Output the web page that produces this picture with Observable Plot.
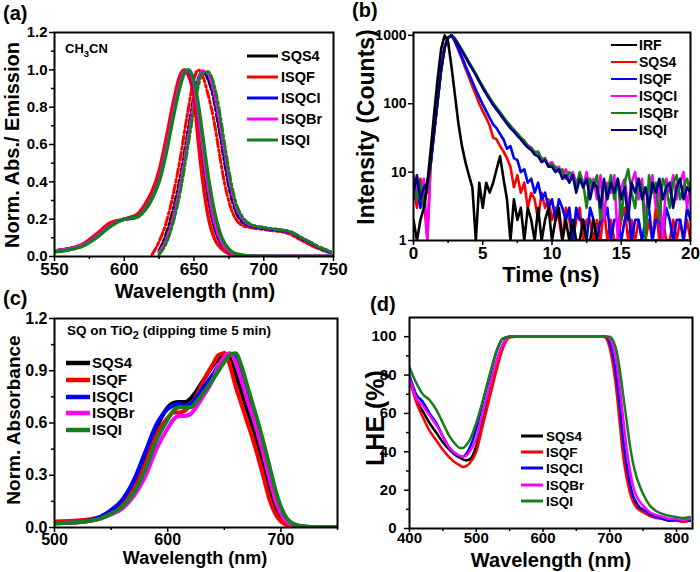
<!DOCTYPE html>
<html><head><meta charset="utf-8">
<script src="https://cdn.jsdelivr.net/npm/d3@7"></script>
<script src="https://cdn.jsdelivr.net/npm/@observablehq/plot@0.6"></script>
<style>
body{margin:0;background:#fff;}
#root{position:relative;width:700px;height:572px;overflow:hidden;background:#fff;font-family:"Liberation Sans",Arial,sans-serif;font-weight:bold;}
.panel{position:absolute;}
.panel svg{overflow:visible;}
#overlay{position:absolute;left:0;top:0;pointer-events:none;}
</style></head><body><div id="root"></div>
<script>
// ---------- shared ----------
const seriesNames = ["SQS4","ISQF","ISQCl","ISQBr","ISQI"];
const seriesLabels = ["SQS4","ISQF","ISQCI","ISQBr","ISQI"];
const seriesColors = ["#000000","#ff0000","#0000ff","#ff00ff","#14801a"];

// ---------- panel (a) ----------
const aWl = [550,560,570,580,590,600,605,610,615,620,625,630,635,640,643,646,650,653,656,660,665,670,675,680,690,700,750];
const aAbsSQS4  = [0.03,0.04,0.06,0.11,0.17,0.20,0.21,0.22,0.26,0.32,0.42,0.58,0.77,0.94,0.99,0.98,0.89,0.74,0.55,0.33,0.15,0.06,0.024,0.009,0.002,0,0];
const aAbsISQF  = [0.03,0.04,0.065,0.12,0.18,0.20,0.21,0.23,0.28,0.35,0.46,0.63,0.82,0.97,1.0,0.97,0.85,0.62,0.42,0.22,0.09,0.04,0.015,0.006,0.001,0,0];
const aAbsISQCl = [0.03,0.04,0.06,0.105,0.165,0.20,0.205,0.215,0.255,0.315,0.41,0.57,0.76,0.93,0.99,0.99,0.91,0.77,0.59,0.37,0.17,0.07,0.028,0.01,0.002,0,0];
const aAbsISQBr = [0.03,0.04,0.06,0.105,0.165,0.20,0.205,0.215,0.255,0.315,0.41,0.57,0.76,0.93,0.99,0.995,0.92,0.78,0.60,0.38,0.18,0.075,0.03,0.01,0.002,0,0];
const aAbsISQI  = [0.025,0.035,0.055,0.10,0.16,0.20,0.205,0.215,0.25,0.31,0.40,0.55,0.74,0.91,0.98,1.0,0.94,0.82,0.66,0.44,0.23,0.10,0.04,0.015,0.003,0.001,0];

const eWl = [620,625,630,635,640,645,650,653,656,660,664,668,672,676,680,685,690,700,710,715,720,725,730,735,740,745,748];
const aEmSQS4  = [null,0.03,0.12,0.25,0.42,0.64,0.86,0.95,0.99,0.95,0.85,0.68,0.50,0.34,0.24,0.18,0.16,0.15,0.14,0.135,0.125,0.105,0.08,0.06,0.045,0.03,0.022];
const aEmISQF  = [0.01,0.08,0.18,0.33,0.52,0.75,0.95,1.0,0.97,0.87,0.74,0.56,0.39,0.27,0.20,0.165,0.155,0.145,0.135,0.13,0.115,0.095,0.075,0.055,0.04,0.025,0.02];
const aEmISQCl = [null,0.02,0.09,0.21,0.38,0.60,0.83,0.94,0.99,0.97,0.88,0.72,0.54,0.37,0.26,0.19,0.165,0.15,0.14,0.135,0.125,0.105,0.085,0.065,0.045,0.03,0.02];
const aEmISQBr = [null,0.02,0.09,0.21,0.38,0.60,0.83,0.94,0.995,0.98,0.89,0.74,0.56,0.39,0.27,0.20,0.17,0.155,0.145,0.14,0.13,0.11,0.09,0.07,0.05,0.035,0.025];
const aEmISQI  = [null,0.01,0.07,0.18,0.34,0.56,0.79,0.91,0.98,0.99,0.93,0.79,0.60,0.42,0.29,0.21,0.175,0.155,0.145,0.14,0.13,0.11,0.09,0.07,0.05,0.035,0.025];

const aXTicks = [550,600,650,700,750];
const aXMinor = [575,625,675,725];
const aYTicks = [0,0.2,0.4,0.6,0.8,1.0,1.2];
const aYMinor = [0.1,0.3,0.5,0.7,0.9,1.1];

// ---------- panel (b) ----------
const bSeries = ["IRF","SQS4","ISQF","ISQCl","ISQBr","ISQI"];
const bLabels = ["IRF","SQS4","ISQF","ISQCI","ISQBr","ISQI"];
const bColors = ["#000000","#ff0000","#0000ff","#ff00ff","#14801a","#000080"];
const bTime = [
  0,0.25,0.5,0.75,1,1.25,1.5,1.75,
  2,2.25,2.5,2.75,3,3.25,3.5,3.75,
  4,4.25,4.5,4.75,5,5.25,5.5,5.75,
  6,6.25,6.5,6.75,7,7.25,7.5,7.75,
  8,8.25,8.5,8.75,9,9.25,9.5,9.75,
  10,10.25,10.5,10.75,11,11.25,11.5,11.75,
  12,12.25,12.5,12.75,13,13.25,13.5,13.75,
  14,14.25,14.5,14.75,15,15.25,15.5,15.75,
  16,16.25,16.5,16.75,17,17.25,17.5,17.75,
  18,18.25,18.5,18.75,19,19.25,19.5,19.75,
  20];
const bIRF = [
  2,1,2,3,7,22,75,240,
  640,1000,800,340,130,50,24,14,
  9,6,1,7,3,7,5,7,
  11,17,8,4,1,4,2,3,
  1,3,2,1,3,1,2,3,
  1,2,3,1,2,1,2,1,
  1,2,1,1,2,1,1,1,
  1,1,1,1,1,1,1,1,
  1,1,1,1,1,1,1,1,
  1,1,1,1,1,1,1,1,
  1];
const bSQS4 = [
  6,3,8,4,1,16,42,120,
  330,680,930,1000,800,600,450,330,
  245,180,135,100,78,62,48,32,
  30,24,20,16,12,6,9,5,
  7,3,5,4,2,5,3,4,
  2,3,2,1,3,2,1,2,
  3,1,2,2,1,2,1,3,
  1,2,1,1,2,3,1,2,
  1,2,1,1,2,1,3,1,
  2,1,1,2,1,2,1,2,
  1];
const bISQF = [
  4,7,3,6,5,14,40,115,
  320,660,920,1000,820,630,480,360,
  275,210,160,125,98,78,62,50,
  44,36,30,22,24,16,15,10,
  11,7,8,5,7,4,5,3,
  4,2,4,3,2,3,1,3,
  2,2,1,3,2,1,2,2,
  3,1,2,2,1,2,3,1,
  2,2,1,2,3,1,2,2,
  1,3,2,1,2,2,1,3,
  2];
const bISQCl = [
  9,5,4,8,1,15,41,118,
  325,670,930,1000,880,730,600,490,
  400,330,270,215,175,145,120,100,
  85,74,62,53,46,42,36,31,
  28,25,22,20,19,16,15,13,
  14,11,12,9,11,8,10,7,
  9,6,10,5,8,4,9,2,
  7,5,9,1,6,8,3,7,
  10,4,8,2,6,9,3,7,
  1,8,5,9,4,7,10,3,
  7];
const bISQBr = [
  8,4,7,3,6,13,39,112,
  315,660,920,1000,890,740,610,500,
  410,335,275,220,180,148,122,102,
  88,75,64,55,48,41,37,32,
  29,24,23,19,20,15,16,12,
  13,12,10,11,8,10,9,6,
  10,7,3,8,6,9,2,7,
  5,9,4,8,2,7,11,5,
  3,8,6,1,9,5,7,2,
  8,6,3,7,9,4,6,8,
  5];
const bISQI = [
  5,9,4,6,7,14,40,115,
  320,665,925,1000,870,720,590,480,
  390,320,262,210,170,140,115,96,
  82,70,60,51,44,39,34,30,
  26,23,21,18,17,14,15,12,
  12,10,11,8,9,7,9,5,
  8,6,8,4,7,6,3,8,
  4,7,5,8,4,6,2,7,
  5,8,4,6,3,7,5,8,
  4,6,7,3,6,8,4,6,
  5];
const bXTicks = [0,5,10,15,20];
const bXMinor = [2.5,7.5,12.5,17.5];
const bYTicks = [1,10,100,1000];

// ---------- panel (c) ----------
const cWl = [500,520,540,550,560,570,580,590,600,605,610,615,620,625,630,640,645,650,655,660,665,670,675,680,685,690,695,700,705,710,720,730,750];
const cSQS4  = [0.025,0.03,0.055,0.09,0.15,0.25,0.40,0.57,0.69,0.715,0.72,0.72,0.74,0.78,0.83,0.93,0.97,1.0,0.97,0.88,0.78,0.68,0.58,0.47,0.35,0.22,0.12,0.055,0.025,0.01,0.003,0.001,0];
const cISQF  = [0.035,0.04,0.06,0.085,0.13,0.22,0.36,0.53,0.63,0.66,0.66,0.67,0.70,0.75,0.82,0.94,0.99,1.0,0.93,0.81,0.71,0.61,0.51,0.40,0.28,0.16,0.08,0.035,0.015,0.007,0.002,0.001,0];
const cISQCl = [0.025,0.03,0.06,0.10,0.16,0.27,0.43,0.59,0.68,0.70,0.71,0.70,0.71,0.74,0.79,0.88,0.93,0.97,0.99,0.98,0.90,0.79,0.68,0.57,0.45,0.32,0.19,0.10,0.045,0.02,0.005,0.002,0];
const cISQBr = [0.025,0.03,0.05,0.075,0.11,0.18,0.29,0.45,0.57,0.62,0.64,0.64,0.65,0.69,0.74,0.85,0.93,0.98,1.0,0.95,0.85,0.74,0.64,0.53,0.41,0.28,0.16,0.08,0.035,0.015,0.004,0.001,0];
const cISQI  = [0.025,0.03,0.05,0.08,0.12,0.20,0.33,0.50,0.62,0.67,0.69,0.69,0.69,0.72,0.76,0.85,0.90,0.95,0.99,1.0,0.93,0.82,0.71,0.60,0.48,0.35,0.22,0.12,0.055,0.025,0.007,0.002,0];
const cXTicks = [500,600,700];
const cXMinor = [550,650,750];
const cYTicks = [0,0.3,0.6,0.9,1.2];
const cYMinor = [0.15,0.45,0.75,1.05];

// ---------- panel (d) ----------
const dWl = [400,410,420,430,440,450,460,470,475,480,485,490,500,510,520,530,540,550,560,600,650,690,695,700,705,710,715,720,725,730,735,740,745,750,760,770,780,790,800,810,820];
const dSQS4  = [78,67,61,55,50,45,41,38,37,36,35.5,36, 43,58,73,86,96,100,100, 100,100,100,100, 96,88,76,60,43,31,22,16,12.5,10.5,9.5, 7,6,5,4.5,4.5,4,4.5];
const dISQF  = [79,66,58,51,46,41,37,34,33,32,32.5,34, 40,54,68,82,94,99.5,100, 100,100,100,99, 94,85,72,55,38,27,19,14,11,9.5,8.5, 6.5,5.5,5,4,4,3.5,4];
const dISQCl = [80,70,66,60,55,48,42,38.5,37.5,37.5,39,42, 52,66,79,92,99,100,100, 100,100,100,100, 97,90,79,64,47,34,24,17,13.5,11,10, 7.5,6,5,4,4.5,4,4];
const dISQBr = [79,68,64,59,54,48,42,39,38,37.5,38,40, 47,61,74,87,96,100,100, 100,100,100,100, 99,95,87,74,58,43,31,22,17,14,12, 8.5,7,6,5,5,4.5,5];
const dISQI  = [84,76,70,67,62,55,48,43.5,42,42,43.5,46, 55,67,80,92,99,100,100, 100,100,100,100, 100,98,93,83,70,57,44,34,27,22,18, 12,9,7.5,6.5,6,5.5,6];
const dXTicks = [400,500,600,700,800];
const dXMinor = [450,550,650,750];
const dYTicks = [0,20,40,60,80,100];
const dYMinor = [10,30,50,70,90];

// ---------- helpers ----------
const FONT = '"Liberation Sans", Arial, Helvetica, sans-serif';
const root = document.getElementById("root");

function toRows(xs, ys) {
  return xs.map((x, i) => ({x, y: ys[i]}));
}

function makePanel(cfg) {
  const marks = [
    Plot.axisX({ticks: cfg.xMinor, tickSize: 3, tickFormat: () => "", label: null, strokeWidth: 1.5}),
    Plot.axisX({ticks: cfg.xTicks, tickSize: cfg.xTickSize || 5, tickPadding: cfg.xPad ?? 1, tickFormat: cfg.xFmt, fontSize: cfg.xFont, label: null, strokeWidth: 1.5}),
    Plot.axisY({ticks: cfg.yMinor || [], tickSize: 3, tickFormat: () => "", label: null, strokeWidth: 1.5}),
    Plot.axisY({ticks: cfg.yTicks, tickSize: 5, tickPadding: cfg.yPad || 2, tickFormat: cfg.yFmt, fontSize: cfg.yFont, label: null, strokeWidth: 1.5}),
    ...cfg.marks,
    Plot.frame({stroke: "black", strokeWidth: 2})
  ];
  const svg = Plot.plot({
    width: cfg.width, height: cfg.height,
    marginTop: cfg.mt, marginRight: cfg.mr, marginBottom: cfg.mb, marginLeft: cfg.ml,
    x: cfg.x, y: cfg.y,
    style: {fontFamily: FONT, fontWeight: "bold", background: "transparent", color: "black", overflow: "visible"},
    marks
  });
  const div = document.createElement("div");
  div.className = "panel";
  div.style.left = cfg.left + "px";
  div.style.top = cfg.top + "px";
  div.appendChild(svg);
  root.appendChild(div);
}

const fmt1 = d3.format(".1f");
const fmtD = d3.format("d");

// ---------- build (a) ----------
const aAbs = [aAbsSQS4, aAbsISQF, aAbsISQCl, aAbsISQBr, aAbsISQI];
const aEm = [aEmSQS4, aEmISQF, aEmISQCl, aEmISQBr, aEmISQI];
makePanel({
  left: 0, top: 0, width: 350, height: 290, mt: 32, mr: 17, mb: 34, ml: 54,
  x: {domain: [550, 750]}, y: {domain: [0, 1.2]},
  xTicks: aXTicks, xMinor: aXMinor, yTicks: aYTicks, yMinor: aYMinor,
  xFmt: fmtD, yFmt: fmt1, xFont: 17, yFont: 15,
  marks: [
    ...aEm.map((ys, i) => Plot.line(toRows(eWl, ys), {x: "x", y: "y", stroke: seriesColors[i], strokeWidth: 3, strokeDasharray: "8,3,2.5,3", curve: "monotone-x", clip: true})),
    ...aAbs.map((ys, i) => Plot.line(toRows(aWl, ys), {x: "x", y: "y", stroke: seriesColors[i], strokeWidth: 3.5, curve: "monotone-x", clip: true}))
  ]
});

// ---------- build (b) ----------
const bData = [bIRF, bSQS4, bISQF, bISQCl, bISQBr, bISQI];
const bOrder = [1, 2, 3, 4, 5, 0];
makePanel({
  left: 350, top: 0, width: 350, height: 290, mt: 32, mr: 10, mb: 50, ml: 63,
  x: {domain: [0, 20]}, y: {type: "log", domain: [1, 1100]},
  xTicks: bXTicks, xMinor: bXMinor, yTicks: bYTicks, yMinor: [],
  xFmt: fmtD, yFmt: fmtD, xFont: 17, yFont: 14,
  marks: bOrder.map(i => Plot.line(toRows(bTime, bData[i]), {x: "x", y: "y", stroke: bColors[i], strokeWidth: 2.6, clip: true}))
});

// ---------- build (c) ----------
const cData = [cSQS4, cISQF, cISQCl, cISQBr, cISQI];
makePanel({
  left: 0, top: 290, width: 350, height: 282, mt: 28, mr: 13, mb: 45, ml: 54,
  x: {domain: [500, 750]}, y: {domain: [0, 1.2]},
  xTicks: cXTicks, xMinor: cXMinor, yTicks: cYTicks, yMinor: cYMinor,
  xFmt: fmtD, yFmt: fmt1, xFont: 16, yFont: 16,
  marks: cData.map((ys, i) => Plot.line(toRows(cWl, ys), {x: "x", y: "y", stroke: seriesColors[i], strokeWidth: 4, curve: "monotone-x", clip: true}))
});

// ---------- build (d) ----------
const dData = [dSQS4, dISQF, dISQCl, dISQBr, dISQI];
makePanel({
  left: 350, top: 290, width: 350, height: 282, mt: 27, mr: 8, mb: 44, ml: 59,
  x: {domain: [400, 824]}, y: {domain: [0, 110]},
  xTicks: dXTicks, xMinor: dXMinor, yTicks: dYTicks, yMinor: dYMinor,
  xFmt: fmtD, yFmt: fmtD, xFont: 15, yFont: 15, yPad: 8, xTickSize: 4, xPad: 0,
  marks: dData.map((ys, i) => Plot.line(toRows(dWl, ys), {x: "x", y: "y", stroke: seriesColors[i], strokeWidth: 2.5, curve: "monotone-x", clip: true}))
});

// ---------- overlay: titles, labels, legends ----------
const ov = d3.select(root).append("svg").attr("id", "overlay")
  .attr("width", 700).attr("height", 572)
  .style("font-family", FONT).style("font-weight", "bold");

function text(x, y, s, size, rotate, anchor) {
  const t = ov.append("text").attr("x", x).attr("y", y).attr("font-size", size)
    .attr("text-anchor", anchor || "start").attr("fill", "black").text(s);
  if (rotate) t.attr("transform", `rotate(-90 ${x} ${y})`);
  return t;
}

// panel letters
text(3, 20, "(a)", 20);
text(352, 17, "(b)", 20);
text(3, 305, "(c)", 20);
text(370, 311, "(d)", 20);

// axis titles
text(19, 145, "Norm. Abs./ Emission", 20, true, "middle");
text(195, 298, "Wavelength (nm)", 20, false, "middle");
text(374, 127, "Intensity (Counts)", 23, true, "middle");
text(551, 282, "Time (ns)", 22, false, "middle");
text(20, 420, "Norm. Absorbance", 19, true, "middle");
text(195, 564, "Wavelength (nm)", 18, false, "middle");
text(384, 418, "LHE (%)", 25, true, "middle");
text(551, 567, "Wavelength (nm)", 20, false, "middle");

// annotations with subscripts
{
  const t = ov.append("text").attr("x", 65).attr("y", 53).attr("font-size", 13);
  t.append("tspan").text("CH");
  t.append("tspan").attr("dy", 4).attr("font-size", 9.5).text("3");
  t.append("tspan").attr("dy", -4).text("CN");
}
{
  const t = ov.append("text").attr("x", 67).attr("y", 335).attr("font-size", 13.5);
  t.append("tspan").text("SQ on TiO");
  t.append("tspan").attr("dy", 4).attr("font-size", 11).text("2");
  t.append("tspan").attr("dy", -4).text(" (dipping time 5 min)");
}

function legend(x0, x1, tx, ys, labels, colors, size, sw) {
  labels.forEach((lab, i) => {
    ov.append("line").attr("x1", x0).attr("x2", x1).attr("y1", ys[i]).attr("y2", ys[i])
      .attr("stroke", colors[i]).attr("stroke-width", sw);
    ov.append("text").attr("x", tx).attr("y", ys[i]).attr("dy", "0.35em")
      .attr("font-size", size).text(lab);
  });
}
legend(247, 278, 281, [56, 77, 98, 119, 140], seriesLabels, seriesColors, 14.5, 3);
legend(611, 637, 639, [45, 62, 79, 96, 113, 130], bLabels, bColors, 14, 2);
legend(66, 90, 92, [363, 380, 397, 413, 430], seriesLabels, seriesColors, 15, 4.5);
legend(521, 543, 546, [436, 452, 468, 485, 501], seriesLabels, seriesColors, 13.5, 3);
</script></body></html>
